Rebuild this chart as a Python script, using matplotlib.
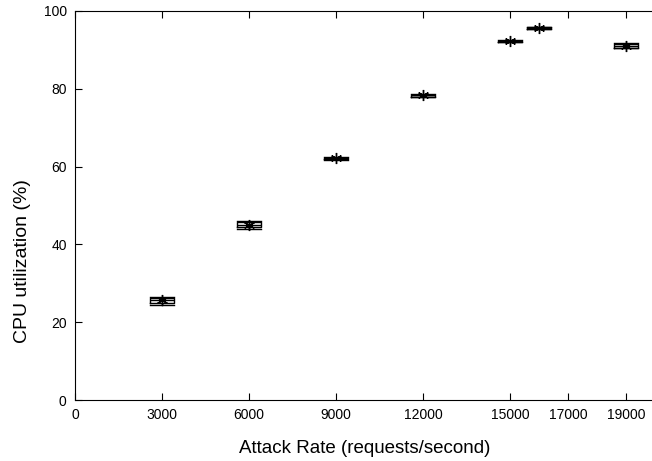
import matplotlib
matplotlib.use("Agg")
import matplotlib.pyplot as plt

plt.rcParams['font.family'] = ['Liberation Sans', 'DejaVu Sans']

# attack rate and cpu utilization stats
rates = [3000, 6000, 9000, 12000, 15000, 16000, 19000]
whis_lo = [24.3, 44.0, 61.8, 77.9, 92.0, 95.4, 90.4]
q1 = [24.9, 44.4, 61.9, 78.0, 92.1, 95.5, 90.6]
med = [25.7, 45.0, 62.1, 78.3, 92.3, 95.7, 91.1]
q3 = [26.2, 45.7, 62.3, 78.5, 92.4, 95.9, 91.6]
whis_hi = [26.5, 46.0, 62.5, 78.7, 92.5, 96.0, 91.9]
xticks = [0, 3000, 6000, 9000, 12000, 15000, 17000, 19000]
yticks = [0, 20, 40, 60, 80, 100]

fig = plt.figure(figsize=(6.52, 4.61), dpi=100)
ax = fig.add_axes([75/652, 61/461, 580/652, 389/461])

stats = []
for i in range(len(rates)):
    stats.append({'whislo': whis_lo[i], 'q1': q1[i], 'med': med[i],
                  'q3': q3[i], 'whishi': whis_hi[i], 'fliers': []})

ax.bxp(stats, positions=rates, widths=850, capwidths=850, showfliers=False,
       boxprops=dict(color='black', lw=1.0),
       whiskerprops=dict(color='black', lw=1.0),
       capprops=dict(color='black', lw=1.0),
       medianprops=dict(color='black', lw=1.0),
       manage_ticks=False)
ax.plot(rates, med, ls='none', marker=(6, 2, 0), ms=8, color='black', mew=1.0)

ax.set_xlim(0, 20000)
ax.set_ylim(0, 100)
ax.set_xticks(xticks)
ax.set_yticks(yticks)
ax.spines['right'].set_visible(False)
ax.tick_params(direction='in', top=True, right=False, labelsize=10, length=5, pad=6)
ax.set_xlabel("Attack Rate (requests/second)", fontsize=13.5, labelpad=13)
ax.set_ylabel("CPU utilization (%)", fontsize=14)
ax.yaxis.set_label_coords(-0.075, 0.357)

fig.savefig("out.png", dpi=100)
